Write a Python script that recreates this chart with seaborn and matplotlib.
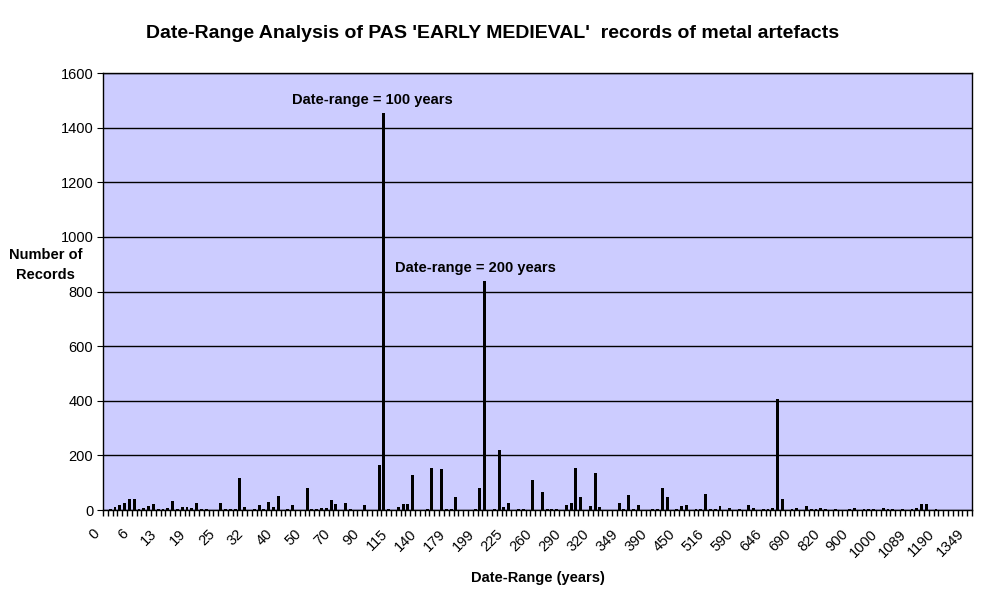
"""Date-range analysis of PAS early medieval metal artefact records (bar chart)."""

import matplotlib

matplotlib.use("Agg")
import matplotlib.pyplot as plt
import matplotlib.transforms as mtransforms
import numpy as np
import pandas as pd
import seaborn as sns

# 每个类别的记录数 (类别按顺序排列，仅每6个显示一个刻度标签)
record_counts = [
    0, 3, 11, 18, 27, 40, 40, 4, 7, 15,
    22, 4, 4, 7, 34, 4, 11, 11, 7, 25,
    4, 4, 0, 0, 25, 3, 3, 3, 117, 11,
    0, 3, 18, 3, 29, 11, 51, 0, 3, 18,
    0, 0, 80, 4, 4, 7, 7, 37, 22, 0,
    26, 4, 0, 0, 18, 0, 0, 164, 1455, 4,
    0, 11, 22, 22, 128, 0, 0, 3, 153, 0,
    150, 3, 3, 48, 0, 0, 0, 3, 80, 838,
    0, 3, 220, 11, 26, 0, 3, 3, 0, 110,
    0, 66, 3, 3, 3, 0, 18, 26, 153, 48,
    0, 15, 135, 11, 0, 0, 0, 26, 3, 55,
    3, 18, 0, 0, 3, 3, 80, 48, 0, 3,
    15, 18, 0, 3, 3, 58, 3, 3, 15, 0,
    7, 0, 3, 0, 18, 7, 0, 3, 3, 7,
    406, 40, 0, 3, 7, 0, 15, 3, 3, 7,
    3, 0, 3, 0, 0, 3, 7, 0, 3, 3,
    3, 0, 7, 3, 3, 0, 3, 0, 3, 7,
    22, 22, 0, 3, 0, 0, 0, 0, 0, 0,
    0,
]

# 可见的x轴刻度标签 (每6个类别一个)
tick_labels = [
    "0", "6", "13", "19", "25", "32", "40", "50", "70", "90", "115",
    "140", "179", "199", "225", "260", "290", "320", "349", "390", "450",
    "516", "590", "646", "690", "820", "900", "1000", "1089", "1190", "1349",
]
tick_step = 6

y_ticks = [0, 200, 400, 600, 800, 1000, 1200, 1400, 1600]

# 注释: (文字, 类别位置, 数值)
annotations = [
    ("Date-range = 100 years", 38.9, 1500),
    ("Date-range = 200 years", 60.3, 885),
]

sns.set_style("white")
plt.rcParams["font.family"] = ["Liberation Sans", "DejaVu Sans"]
plt.rcParams["text.color"] = "black"
plt.rcParams["axes.labelcolor"] = "black"
plt.rcParams["xtick.color"] = "black"
plt.rcParams["ytick.color"] = "black"

df = pd.DataFrame({"pos": np.arange(len(record_counts)), "count": record_counts})

fig = plt.figure(figsize=(9.86, 6.06), dpi=100)
ax = fig.add_axes([0.1045, 0.1584, 0.8813, 0.7211])
ax.set_facecolor("#CCCCFF")

sns.barplot(data=df, x="pos", y="count", color="black", width=0.6,
            saturation=1, edgecolor="black", linewidth=0, ax=ax, zorder=3)

n = len(record_counts)
ax.set_xlim(-0.5, n - 0.5)
ax.set_ylim(0, 1600)

# 网格线
ax.set_yticks(y_ticks)
ax.yaxis.grid(True, color="black", linewidth=1, zorder=1)
ax.set_axisbelow(True)
ax.tick_params(axis="y", labelsize=10.5, length=4, direction="out", color="black",
               left=True, pad=3)

# x轴: 类别边界处的小刻度, 标签每6个
ax.set_xticks(np.arange(0, n, tick_step))
ax.set_xticklabels(tick_labels, rotation=45, ha="right", rotation_mode="anchor",
                   fontsize=10.5)
ax.tick_params(axis="x", which="major", length=0, pad=12)
shift = mtransforms.ScaledTranslation(-13 / 100, 0, fig.dpi_scale_trans)
for lbl in ax.get_xticklabels():
    lbl.set_transform(lbl.get_transform() + shift)
ax.set_xticks(np.arange(-0.5, n, 1), minor=True)
ax.tick_params(axis="x", which="minor", length=4, direction="out", color="black",
               bottom=True, width=1)

for spine in ax.spines.values():
    spine.set_visible(True)
    spine.set_color("black")
    spine.set_linewidth(1)

ax.set_xlabel("Date-Range (years)", fontsize=10.5, fontweight="bold", labelpad=8)
ax.set_ylabel("")
fig.text(0.046, 0.563, "Number of\nRecords", ha="center", va="center",
         fontsize=10.5, fontweight="bold", linespacing=1.5)

fig.suptitle("Date-Range Analysis of PAS 'EARLY MEDIEVAL'  records of metal artefacts",
             x=0.5, y=0.945, va="center", fontsize=14, fontweight="bold")

for text, xpos, yval in annotations:
    ax.text(xpos, yval, text, ha="left", va="center", fontsize=10.5,
            fontweight="bold", zorder=4)

fig.savefig("out.png", dpi=100)
